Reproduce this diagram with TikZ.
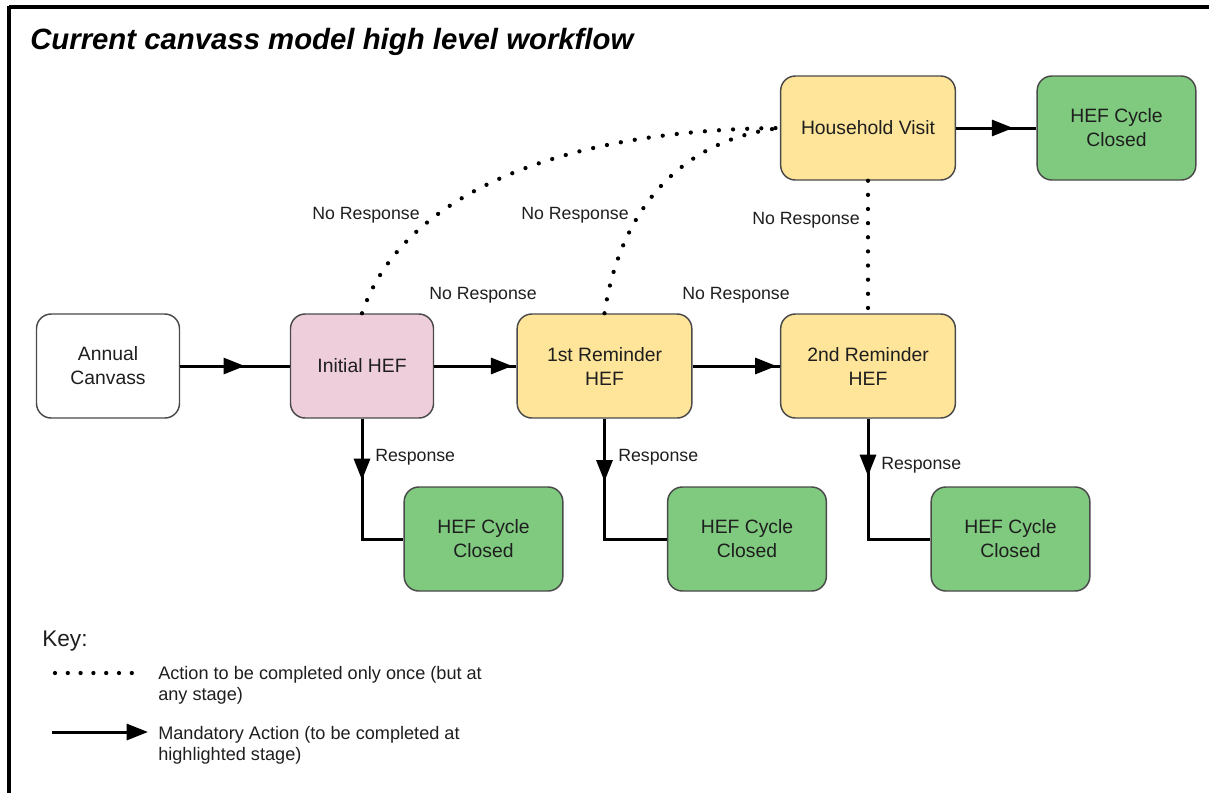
\documentclass[tikz,border=0pt]{standalone}
\usepackage{fontspec}
\setmainfont{Liberation Sans}
\usetikzlibrary{arrows.meta,decorations.markings}
\definecolor{boxline}{HTML}{4A4A4A}
\definecolor{pinkfill}{HTML}{EFCEDB}
\definecolor{yellowfill}{HTML}{FFE599}
\definecolor{greenfill}{HTML}{7FCA7F}
\definecolor{txt}{HTML}{1E1E1E}
\tikzset{
  box/.style={draw=boxline, line width=1.1pt, rounded corners=11pt, align=center,
    minimum width=107.25pt, minimum height=78pt, inner sep=2pt,
    font=\fontsize{14.5}{18}\selectfont, text=txt},
  wbox/.style={box, fill=white},
  pbox/.style={box, fill=pinkfill},
  ybox/.style={box, fill=yellowfill, minimum width=131pt},
  gbox/.style={box, fill=greenfill, minimum width=119pt},
  lbl/.style={font=\fontsize{13.3}{16}\selectfont, text=txt, inner sep=0pt},
  solidarr/.style={line width=2.25pt, black},
  tip/.style={-{Triangle[length=16pt,width=12pt]}},
  midarrow/.style={postaction={decorate}, decoration={markings,
    mark=at position #1 with {\arrow{Triangle[length=16pt,width=12pt]}}}},
  dots/.style={line width=3.2pt, line cap=round, dash pattern=on 0pt off 10.6pt, black},
}
\begin{document}
\begin{tikzpicture}[x=0.75pt,y=-0.75pt]
\useasboundingbox (0,0) rectangle (1209,793);
% frame
\draw[line width=3pt] (9,7) -- (1209,7);
\draw[line width=3pt] (9,5.5) -- (9,793);
% title
\node[anchor=base west, inner sep=0pt, font=\fontsize{22}{24}\selectfont\bfseries\itshape] (title) at (30,49) {Current canvass model high level workflow};
% nodes
\node[wbox] (ac) at (108,366) {Annual\\Canvass};
\node[pbox] (ini) at (362,366) {Initial HEF};
\node[ybox] (r1) at (604.5,366) {1st Reminder\\HEF};
\node[ybox] (r2) at (868,366) {2nd Reminder\\HEF};
\node[ybox] (hv) at (868,128) {Household Visit};
\node[gbox] (c0) at (1116.5,128) {HEF Cycle\\Closed};
\node[gbox] (c1) at (483.5,539) {HEF Cycle\\Closed};
\node[gbox] (c2) at (747,539) {HEF Cycle\\Closed};
\node[gbox] (c3) at (1010.5,539) {HEF Cycle\\Closed};
% mandatory arrows
\draw[solidarr, midarrow=0.59] (ac.east) -- (ini.west);
\draw[solidarr, midarrow=0.95] (ini.east) -- (r1.west);
\draw[solidarr, midarrow=0.96] (r1.east) -- (r2.west);
\draw[solidarr, midarrow=0.71] (hv.east) -- (c0.west);
\draw[solidarr, midarrow=46pt] (ini.south) |- (c1.west);
\draw[solidarr, midarrow=47pt] (r1.south) |- (c2.west);
\draw[solidarr, midarrow=43pt] (r2.south) |- (c3.west);
% once-only dotted connectors
\draw[dots] (ini.north) .. controls (400,200) and (550,130) .. (hv.west);
\draw[dots] (r1.north) .. controls (620,210) and (680,140) .. (hv.west);
\draw[dots] (hv.south) -- (r2.north);
% labels
\node[lbl] (nr1) at (366,215) {No Response};
\node[lbl] (nr2) at (575,215) {No Response};
\node[lbl] (nr3) at (806,220) {No Response};
\node[lbl] (nr4) at (483,295) {No Response};
\node[lbl] (nr5) at (736,295) {No Response};
\node[lbl, anchor=west] (rs1) at (375,457) {Response};
\node[lbl, anchor=west] (rs2) at (618,457) {Response};
\node[lbl, anchor=west] (rs3) at (881,465) {Response};
% key
\node[anchor=base west, inner sep=0pt, font=\fontsize{17}{20}\selectfont, text=txt] (key) at (42,646) {Key:};
\coordinate (d1) at (55,673);
\coordinate (d2) at (142,673);
\draw[line width=3.2pt, line cap=round, dash pattern=on 0pt off 9.6pt] (d1) -- (d2);
\node[anchor=north west, inner sep=0pt, align=left, font=\fontsize{13.6}{15.8}\selectfont, text=txt] (k1) at (158,666) {Action to be completed only once (but at\\any stage)};
\coordinate (a1) at (52,732);
\coordinate (a2) at (148,732);
\draw[solidarr, tip] (a1) -- (a2);
\node[anchor=north west, inner sep=0pt, align=left, font=\fontsize{13.6}{15.8}\selectfont, text=txt] (k2) at (158,726) {Mandatory Action (to be completed at\\highlighted stage)};
\end{tikzpicture}
\end{document}
